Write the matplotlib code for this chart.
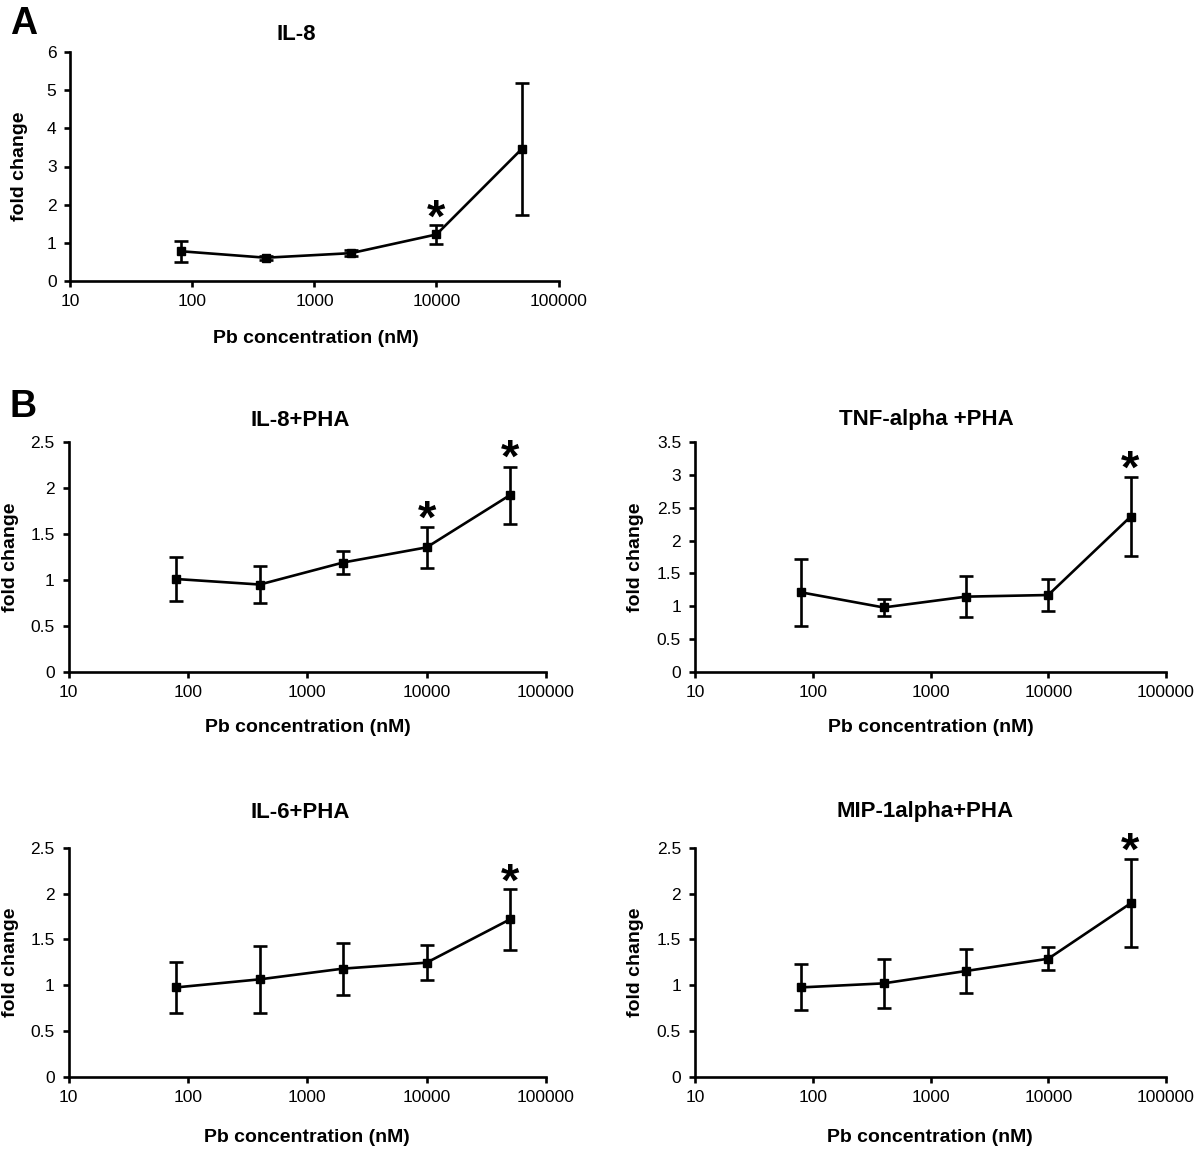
import matplotlib
matplotlib.use("Agg")
import matplotlib.pyplot as plt
from matplotlib.ticker import FormatStrFormatter

plt.rcParams["font.family"] = ["Liberation Sans", "DejaVu Sans"]

# Pb concentrations (nM)
conc = [80, 400, 2000, 10000, 50000]
x_ticks = [10, 100, 1000, 10000, 100000]
x_tick_labels = ["10", "100", "1000", "10000", "100000"]

titles = ["IL-8", "IL-8+PHA", "TNF-alpha +PHA", "IL-6+PHA", "MIP-1alpha+PHA"]

il8_mean = [0.78, 0.61, 0.73, 1.22, 3.46]
il8_err = [0.27, 0.05, 0.07, 0.25, 1.72]

il8_pha_mean = [1.01, 0.95, 1.19, 1.355, 1.925]
il8_pha_err = [0.24, 0.20, 0.12, 0.22, 0.31]

tnf_pha_mean = [1.21, 0.98, 1.145, 1.17, 2.365]
tnf_pha_err = [0.51, 0.135, 0.31, 0.25, 0.60]

il6_pha_mean = [0.975, 1.063, 1.18, 1.245, 1.718]
il6_pha_err = [0.275, 0.365, 0.285, 0.19, 0.33]

mip_pha_mean = [0.975, 1.019, 1.154, 1.288, 1.892]
mip_pha_err = [0.25, 0.27, 0.24, 0.125, 0.48]

# significance marks: (concentration, centre of the star)
il8_stars = [(10000, 1.96)]
il8_pha_stars = [(10000, 1.80), (50000, 2.46)]
tnf_pha_stars = [(50000, 3.28)]
il6_pha_stars = [(50000, 2.26)]
mip_pha_stars = [(50000, 2.60)]

y_limits = [6, 2.5, 3.5, 2.5, 2.5]
y_steps = [1, 0.5, 0.5, 0.5, 0.5]

W, H = 1200, 1149
fig = plt.figure(figsize=(W / 100, H / 100), dpi=100)


def px_axes(left, right, top, bottom):
    return fig.add_axes([left / W, 1 - bottom / H, (right - left) / W, (bottom - top) / H])


boxes = [
    (70.4, 558.5, 52, 281),
    (68.5, 546, 442.3, 671.7),
    (695, 1166, 442.3, 671.7),
    (68.5, 546, 847.7, 1076.7),
    (695, 1166, 847.7, 1076.7),
]
means = [il8_mean, il8_pha_mean, tnf_pha_mean, il6_pha_mean, mip_pha_mean]
errs = [il8_err, il8_pha_err, tnf_pha_err, il6_pha_err, mip_pha_err]
stars = [il8_stars, il8_pha_stars, tnf_pha_stars, il6_pha_stars, mip_pha_stars]
title_pos = [(296, 34), (300, 420), (926, 419), (300, 812), (925, 812)]
xlabel_pos = [(316, 338), (308, 727), (931, 727), (307, 1137), (930, 1137)]
ylabel_x = [20, 11, 636, 11, 636]

for i in range(5):
    ax = px_axes(*boxes[i])
    ax.errorbar(conc, means[i], yerr=errs[i], color="black", lw=1.9,
                marker="s", ms=5.5, capsize=5.2, capthick=1.9, elinewidth=1.9)
    ax.set_xscale("log")
    ax.set_xlim(10, 100000)
    ax.set_ylim(0, y_limits[i])
    ax.set_xticks(x_ticks)
    ax.set_xticklabels(x_tick_labels)
    ax.minorticks_off()
    n = int(round(y_limits[i] / y_steps[i]))
    ax.set_yticks([k * y_steps[i] for k in range(n + 1)])
    ax.yaxis.set_major_formatter(FormatStrFormatter("%g"))
    for s in ["top", "right"]:
        ax.spines[s].set_visible(False)
    for s in ["left", "bottom"]:
        ax.spines[s].set_linewidth(1.9)
    ax.tick_params(axis="both", labelsize=12.5, width=1.9, length=4.5, direction="out")
    ax.tick_params(axis="x", pad=5)
    ax.tick_params(axis="y", pad=5.5)
    for sx, sy in stars[i]:
        ax.annotate("*", xy=(sx, sy), xytext=(0, -18.5), textcoords="offset points",
                    ha="center", va="baseline", fontsize=34, fontweight="bold",
                    annotation_clip=False)
    l, r, t, b = boxes[i]
    fig.text(ylabel_x[i] / W, 1 - (t + b) / 2 / H, "fold change", rotation=90,
             ha="center", va="center", fontsize=14, fontweight="bold")
    fig.text(title_pos[i][0] / W, 1 - title_pos[i][1] / H, titles[i], ha="center",
             va="center", fontsize=16, fontweight="bold")
    fig.text(xlabel_pos[i][0] / W, 1 - xlabel_pos[i][1] / H, "Pb concentration (nM)",
             ha="center", va="center", fontsize=14, fontweight="bold")

fig.text(10 / W, 1 - 24 / H, "A", ha="left", va="center", fontsize=27, fontweight="bold")
fig.text(10 / W, 1 - 407 / H, "B", ha="left", va="center", fontsize=27, fontweight="bold")

fig.savefig("out.png", dpi=100, facecolor="white")
